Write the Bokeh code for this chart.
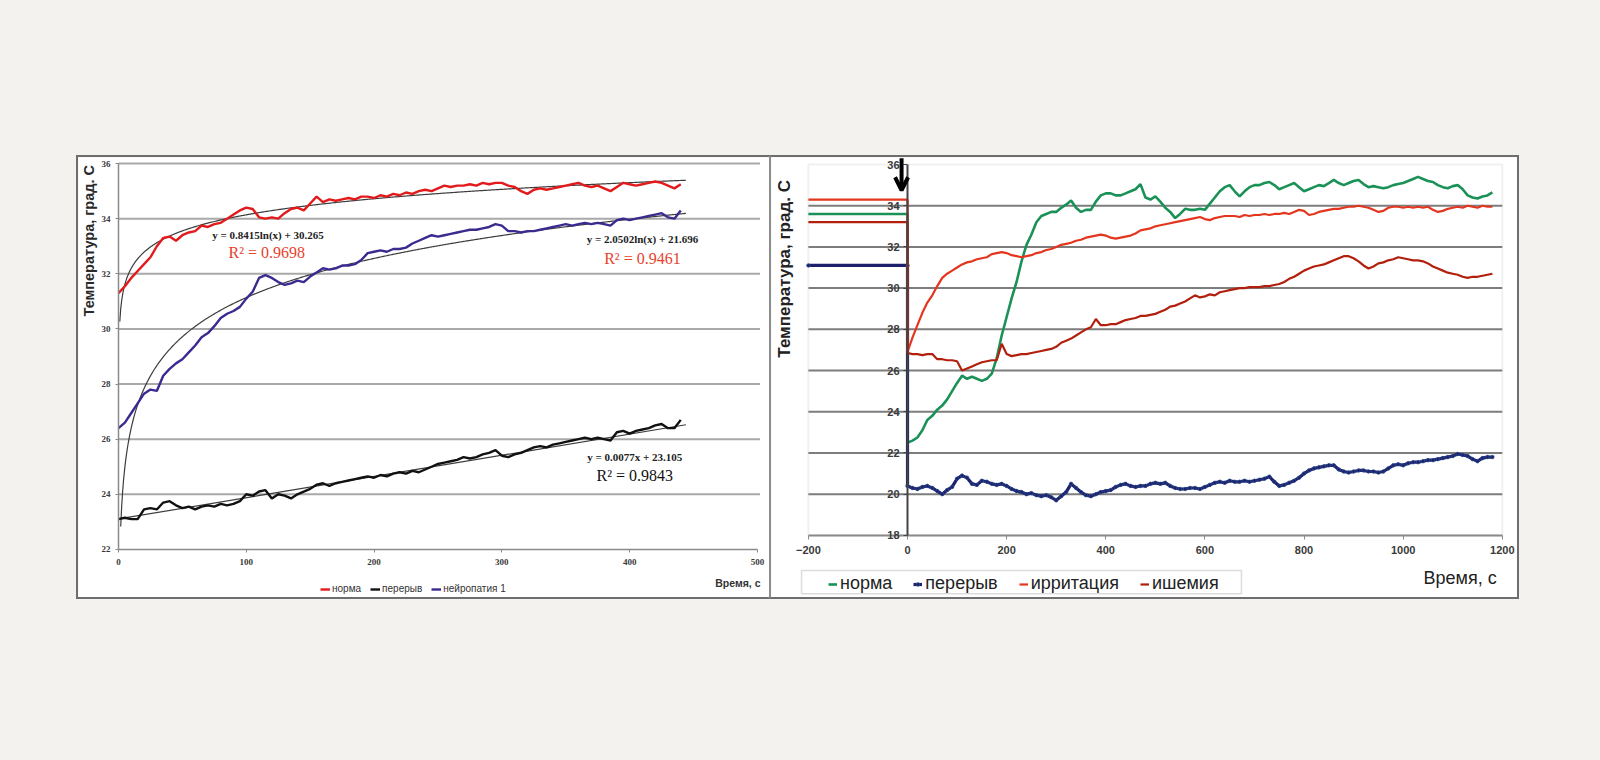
import numpy as np
from bokeh.plotting import figure
from bokeh.models import (Range1d, Label, Legend, LegendItem, Arrow, OpenHead,
                          FixedTicker, Spacer, BoxAnnotation)
from bokeh.layouts import row, column
from bokeh.embed import file_html
from bokeh.resources import INLINE

# ---------------- LEFT CHART DATA ----------------
left_t = list(range(0, 445, 5))
left_norma = [31.3, 31.55, 31.85, 32.1, 32.35, 32.6, 33.0, 33.3, 33.35, 33.2, 33.4, 33.5, 33.55, 33.75, 33.7,
              33.8, 33.85, 34.0, 34.15, 34.3, 34.4, 34.35, 34.05, 34.0, 34.05, 34.0, 34.2, 34.35, 34.4, 34.3,
              34.55, 34.8, 34.6, 34.7, 34.65, 34.7, 34.75, 34.7, 34.8, 34.8, 34.75, 34.85, 34.8, 34.9, 34.85,
              34.95, 34.9, 35.0, 35.05, 35.0, 35.1, 35.2, 35.15, 35.2, 35.2, 35.25, 35.2, 35.3, 35.25, 35.3,
              35.3, 35.2, 35.15, 35.0, 34.9, 35.05, 35.1, 35.05, 35.1, 35.15, 35.2, 35.25, 35.3, 35.2, 35.15,
              35.2, 35.1, 35.0, 35.15, 35.3, 35.25, 35.2, 35.25, 35.3, 35.35, 35.3, 35.2, 35.1, 35.25]
left_pereryv = [23.1, 23.15, 23.1, 23.1, 23.45, 23.5, 23.45, 23.7, 23.75, 23.6, 23.5, 23.55, 23.45, 23.55, 23.6,
                23.55, 23.65, 23.6, 23.65, 23.75, 24.0, 23.95, 24.1, 24.15, 23.85, 24.0, 23.95, 23.85, 24.0, 24.1,
                24.2, 24.35, 24.4, 24.3, 24.4, 24.45, 24.5, 24.55, 24.6, 24.65, 24.6, 24.7, 24.65, 24.75, 24.8,
                24.75, 24.85, 24.8, 24.9, 25.0, 25.1, 25.15, 25.2, 25.25, 25.35, 25.3, 25.35, 25.45, 25.5, 25.6,
                25.4, 25.35, 25.45, 25.5, 25.6, 25.7, 25.75, 25.7, 25.8, 25.85, 25.9, 25.95, 26.0, 26.05, 26.0,
                26.05, 26.0, 25.95, 26.25, 26.3, 26.2, 26.3, 26.35, 26.4, 26.5, 26.55, 26.4, 26.4, 26.7]
left_neuro = [26.4, 26.6, 26.95, 27.3, 27.65, 27.8, 27.75, 28.3, 28.55, 28.75, 28.9, 29.15, 29.4, 29.7, 29.85,
              30.1, 30.4, 30.55, 30.65, 30.8, 31.1, 31.35, 31.85, 31.95, 31.85, 31.7, 31.6, 31.65, 31.75, 31.7,
              31.9, 32.05, 32.2, 32.15, 32.2, 32.3, 32.3, 32.35, 32.5, 32.75, 32.8, 32.85, 32.8, 32.9, 32.9,
              32.95, 33.1, 33.2, 33.3, 33.4, 33.35, 33.4, 33.45, 33.5, 33.55, 33.6, 33.6, 33.65, 33.7, 33.8,
              33.75, 33.55, 33.55, 33.5, 33.55, 33.55, 33.6, 33.65, 33.7, 33.75, 33.8, 33.75, 33.8, 33.85, 33.8,
              33.85, 33.8, 33.75, 33.95, 34.0, 33.95, 34.0, 34.05, 34.1, 34.15, 34.2, 34.05, 34.0, 34.3]
left_names = ["норма", "перерыв", "нейропатия 1"]
# trendline coefficients as printed on the chart
trend_norma = (0.8415, 30.265)      # y = a ln(x) + b
trend_neuro = (2.0502, 21.696)      # y = a ln(x) + b
trend_pereryv = (0.0077, 23.105)    # y = a x + b
eq_texts = ["y = 0.8415ln(x) + 30.265", "y = 2.0502ln(x) + 21.696", "y = 0.0077x + 23.105"]
r2_texts = ["R² = 0.9698", "R² = 0.9461", "R² = 0.9843"]
left_yticks = [22, 24, 26, 28, 30, 32, 34, 36]
left_xticks = [0, 100, 200, 300, 400, 500]

# ---------------- RIGHT CHART DATA ----------------
right_t = list(range(0, 1190, 10))
pre_t = [-200, 0]
right_names = ["норма", "перерыв", "ирритация", "ишемия"]
pre_vals = {"норма": 33.6, "перерыв": 31.1, "ирритация": 34.3, "ишемия": 33.2}
r_norma = [22.5, 22.6, 22.75, 23.1, 23.6, 23.8, 24.1, 24.3, 24.6, 25.0, 25.4, 25.75, 25.6, 25.7, 25.6, 25.5,
           25.6, 25.85, 26.6, 27.7, 28.6, 29.5, 30.3, 31.3, 32.1, 32.6, 33.2, 33.5, 33.6, 33.7, 33.7, 33.9,
           34.05, 34.25, 33.9, 33.7, 33.8, 33.8, 34.2, 34.5, 34.6, 34.6, 34.5, 34.5, 34.6, 34.7, 34.8, 35.05,
           34.4, 34.3, 34.45, 34.2, 33.9, 33.7, 33.4, 33.6, 33.85, 33.8, 33.8, 33.85, 33.8, 34.1, 34.4, 34.7,
           34.9, 35.0, 34.7, 34.45, 34.7, 34.9, 35.0, 35.0, 35.1, 35.15, 35.0, 34.8, 34.9, 35.0, 35.1, 34.9,
           34.7, 34.8, 34.9, 35.0, 34.95, 35.1, 35.25, 35.1, 35.0, 35.1, 35.2, 35.25, 35.05, 34.9, 34.95, 34.9,
           34.85, 34.9, 35.0, 35.05, 35.1, 35.2, 35.3, 35.4, 35.3, 35.2, 35.15, 35.0, 34.9, 34.85, 34.95, 35.0,
           34.8, 34.5, 34.4, 34.35, 34.45, 34.5, 34.65]
r_pereryv = [20.4, 20.3, 20.25, 20.35, 20.4, 20.3, 20.15, 20.0, 20.2, 20.35, 20.75, 20.9, 20.8, 20.5, 20.45,
             20.65, 20.6, 20.5, 20.45, 20.5, 20.4, 20.25, 20.15, 20.1, 20.0, 20.05, 19.95, 19.9, 19.95, 19.85,
             19.7, 19.9, 20.1, 20.5, 20.3, 20.1, 19.95, 19.9, 20.0, 20.1, 20.15, 20.2, 20.35, 20.45, 20.5, 20.4,
             20.35, 20.4, 20.4, 20.5, 20.55, 20.5, 20.55, 20.4, 20.3, 20.25, 20.25, 20.3, 20.3, 20.25, 20.35,
             20.45, 20.55, 20.6, 20.55, 20.65, 20.6, 20.6, 20.65, 20.6, 20.65, 20.7, 20.75, 20.85, 20.6, 20.4,
             20.45, 20.55, 20.65, 20.8, 21.0, 21.15, 21.25, 21.3, 21.35, 21.4, 21.4, 21.2, 21.1, 21.05, 21.1,
             21.15, 21.15, 21.1, 21.1, 21.05, 21.1, 21.25, 21.4, 21.45, 21.4, 21.5, 21.55, 21.55, 21.6, 21.65,
             21.65, 21.7, 21.75, 21.8, 21.85, 21.95, 21.9, 21.85, 21.7, 21.6, 21.75, 21.8, 21.8]
r_irrit = [26.9, 27.6, 28.2, 28.8, 29.3, 29.65, 30.1, 30.5, 30.7, 30.85, 31.0, 31.15, 31.25, 31.3, 31.4, 31.45,
           31.5, 31.65, 31.7, 31.75, 31.7, 31.6, 31.55, 31.5, 31.55, 31.6, 31.7, 31.75, 31.85, 31.9, 32.0, 32.1,
           32.15, 32.2, 32.3, 32.35, 32.45, 32.5, 32.55, 32.6, 32.55, 32.45, 32.4, 32.45, 32.5, 32.55, 32.65,
           32.8, 32.85, 32.9, 33.0, 33.05, 33.1, 33.15, 33.2, 33.25, 33.3, 33.35, 33.4, 33.45, 33.35, 33.3, 33.4,
           33.45, 33.5, 33.5, 33.5, 33.45, 33.55, 33.5, 33.55, 33.55, 33.6, 33.55, 33.6, 33.6, 33.65, 33.6, 33.7,
           33.8, 33.75, 33.55, 33.6, 33.7, 33.75, 33.8, 33.85, 33.85, 33.9, 33.95, 33.95, 34.0, 33.95, 33.9,
           33.8, 33.7, 33.75, 33.9, 33.95, 33.95, 33.9, 33.95, 33.9, 33.95, 33.9, 33.95, 33.8, 33.7, 33.75, 33.85,
           33.9, 33.95, 33.9, 34.0, 33.95, 33.9, 34.0, 33.95, 33.95]
r_ischem = [26.85, 26.8, 26.8, 26.75, 26.8, 26.8, 26.55, 26.55, 26.5, 26.5, 26.45, 26.0, 26.1, 26.2, 26.3, 26.4,
            26.45, 26.5, 26.5, 27.3, 26.8, 26.7, 26.75, 26.8, 26.8, 26.85, 26.9, 26.95, 27.0, 27.05, 27.15, 27.35,
            27.45, 27.55, 27.7, 27.85, 28.0, 28.1, 28.5, 28.2, 28.2, 28.25, 28.25, 28.35, 28.45, 28.5, 28.55,
            28.65, 28.65, 28.7, 28.75, 28.85, 28.95, 29.1, 29.15, 29.25, 29.35, 29.5, 29.65, 29.55, 29.6, 29.7,
            29.65, 29.8, 29.85, 29.9, 29.95, 30.0, 30.0, 30.05, 30.05, 30.05, 30.1, 30.1, 30.15, 30.2, 30.3,
            30.45, 30.55, 30.7, 30.85, 30.95, 31.05, 31.1, 31.15, 31.25, 31.35, 31.45, 31.55, 31.55, 31.45, 31.3,
            31.1, 30.95, 31.05, 31.2, 31.25, 31.35, 31.4, 31.5, 31.45, 31.4, 31.35, 31.35, 31.3, 31.2, 31.05,
            30.95, 30.85, 30.75, 30.7, 30.65, 30.55, 30.5, 30.55, 30.55, 30.6, 30.65, 30.7]
right_yticks = [18, 20, 22, 24, 26, 28, 30, 32, 34, 36]
right_xticks = [-200, 0, 200, 400, 600, 800, 1000, 1200]
event_t = 0

FRAME = "#6e6e6e"

# ================= LEFT FIGURE =================
# the frame fills the whole canvas; axes are pinned at x=0 / y=22
p1 = figure(width=693, height=444, output_backend="svg", toolbar_location=None,
            x_range=Range1d(-31.3, 511.0), y_range=Range1d(20.11, 36.22),
            min_border_left=0, min_border_right=0, min_border_top=0, min_border_bottom=0)
p1.styles = {"border-top": f"2px solid {FRAME}", "border-left": f"2px solid {FRAME}",
             "border-bottom": f"2px solid {FRAME}"}
p1.outline_line_color = None
p1.background_fill_color = "white"
p1.border_fill_color = "white"
p1.xgrid.visible = False
p1.ygrid.visible = False
p1.yaxis.ticker = FixedTicker(ticks=left_yticks)
p1.xaxis.ticker = FixedTicker(ticks=left_xticks)
p1.yaxis.fixed_location = left_xticks[0]
p1.xaxis.fixed_location = left_yticks[0]
p1.yaxis.bounds = (left_yticks[0], left_yticks[-1])
p1.xaxis.bounds = (left_xticks[0], left_xticks[-1])
for ax in (p1.xaxis[0], p1.yaxis[0]):
    ax.axis_line_color = "#8a8a8a"
    ax.axis_line_width = 1.5
    ax.major_tick_line_color = "#8a8a8a"
    ax.major_tick_in = 0
    ax.major_tick_out = 3
    ax.minor_tick_line_color = None
    ax.major_label_text_font = "Liberation Serif"
    ax.major_label_text_font_style = "bold"
    ax.major_label_text_font_size = "9px"
    ax.major_label_text_color = "#3a3a3a"
p1.yaxis.major_label_standoff = 5
p1.xaxis.major_label_standoff = 7

# horizontal grid lines
g1 = left_yticks[1:]
p1.segment(x0=[left_xticks[0]] * len(g1), x1=[left_xticks[-1] + 2] * len(g1), y0=g1, y1=g1,
           line_color="#a9a9a9", line_width=2)

tx = np.linspace(1.0, 444, 600)
a, b = trend_norma
p1.line(tx, a * np.log(tx) + b, line_color="#3c3c3c", line_width=1.2)
a, b = trend_neuro
txn = tx[a * np.log(tx) + b >= left_yticks[0]]
p1.line(txn, a * np.log(txn) + b, line_color="#3c3c3c", line_width=1.2)
a, b = trend_pereryv
tl = np.array([0.0, 444.0])
p1.line(tl, a * tl + b, line_color="#3c3c3c", line_width=1.2)

rn = p1.line(left_t, left_norma, line_color="#e31a1c", line_width=2.4)
rp = p1.line(left_t, left_pereryv, line_color="#111111", line_width=2.4)
rz = p1.line(left_t, left_neuro, line_color="#3b2a8f", line_width=2.4)

# trend line texts
for (xx, yy, txt, size, col, bold) in [
        (117, 33.39, eq_texts[0], "11px", "#222222", True),
        (116, 32.77, r2_texts[0], "16px", "#e8412c", False),
        (410, 33.28, eq_texts[1], "11px", "#222222", True),
        (410, 32.55, r2_texts[1], "16px", "#e8412c", False),
        (404, 25.34, eq_texts[2], "11px", "#222222", True),
        (404, 24.68, r2_texts[2], "16px", "#111111", False)]:
    p1.add_layout(Label(x=xx, y=yy, text=txt, text_font="Liberation Serif",
                        text_font_style="bold" if bold else "normal", text_font_size=size,
                        text_color=col, text_align="center", text_baseline="middle"))

p1.add_layout(Label(x=-22.7, y=33.2, text="Температура, град. С", angle=np.pi / 2, text_font="Liberation Sans",
                    text_font_style="bold", text_font_size="14.5px", text_color="#2a2a2a",
                    text_align="center", text_baseline="middle"))
p1.add_layout(Label(x=467, y=20.77, text="Время, с", text_font="Liberation Sans", text_font_style="bold",
                    text_font_size="10.5px", text_color="#333333", text_align="left", text_baseline="middle"))

leg1 = Legend(items=[LegendItem(label=left_names[0], renderers=[rn]),
                     LegendItem(label=left_names[1], renderers=[rp]),
                     LegendItem(label=left_names[2], renderers=[rz])],
              orientation="horizontal", location=(242, 7), border_line_color=None,
              background_fill_alpha=0, label_text_font="Liberation Sans", label_text_font_size="10px",
              label_text_color="#333333", glyph_width=10, glyph_height=10, label_standoff=2, spacing=9,
              padding=0, margin=0)
p1.add_layout(leg1)

# ================= RIGHT FIGURE =================
p2 = figure(width=750, height=444, output_backend="svg", toolbar_location=None,
            x_range=Range1d(-274.4, 1238.7), y_range=Range1d(14.79, 36.34),
            min_border_left=0, min_border_right=0, min_border_top=0, min_border_bottom=0)
p2.styles = {"border-top": f"2px solid {FRAME}", "border-left": "2px solid #8e8e8e",
             "border-right": f"2px solid {FRAME}", "border-bottom": f"2px solid {FRAME}"}
p2.outline_line_color = None
p2.background_fill_color = "white"
p2.border_fill_color = "white"
p2.xgrid.visible = False
p2.ygrid.visible = False
p2.yaxis.ticker = FixedTicker(ticks=right_yticks)
p2.xaxis.ticker = FixedTicker(ticks=right_xticks)
p2.yaxis.fixed_location = event_t
p2.xaxis.fixed_location = right_yticks[0]
p2.yaxis.bounds = (right_yticks[0], right_yticks[-1])
p2.xaxis.bounds = (right_xticks[0], right_xticks[-1])
for ax in (p2.xaxis[0], p2.yaxis[0]):
    ax.major_tick_in = 0
    ax.major_tick_out = 4
    ax.minor_tick_line_color = None
    ax.major_label_text_font = "Liberation Sans"
    ax.major_label_text_font_style = "bold"
    ax.major_label_text_font_size = "11px"
    ax.major_label_text_color = "#3a3a3a"
p2.xaxis.axis_line_color = "#8a8a8a"
p2.xaxis.axis_line_width = 2
p2.xaxis.major_tick_line_color = "#8a8a8a"
p2.xaxis.major_label_standoff = 7
p2.yaxis.axis_line_color = "#444444"
p2.yaxis.axis_line_width = 2
p2.yaxis.major_tick_line_color = "#444444"
p2.yaxis.major_label_standoff = 4

# plot-area border and horizontal grid lines
p2.add_layout(BoxAnnotation(left=right_xticks[0], right=right_xticks[-1], bottom=right_yticks[0],
                            top=right_yticks[-1], fill_alpha=0, line_color="#cfcfcf", line_width=2,
                            level="underlay"))
g2 = right_yticks[1:-1]
p2.segment(x0=[right_xticks[0]] * len(g2), x1=[right_xticks[-1]] * len(g2), y0=g2, y1=g2,
           line_color="#7d7d7d", line_width=2)

def series(pre, vals):
    return pre_t + right_t, [pre, pre] + vals

xs, ys = series(pre_vals["норма"], r_norma)
g_norma = p2.line(xs, ys, line_color="#1a9257", line_width=2.6)
xs, ys = series(pre_vals["перерыв"], r_pereryv)
g_per = p2.line(xs, ys, line_color="#1d1f6b", line_width=3.2)
g_perm = p2.scatter(xs, ys, marker="circle", size=3.5, fill_color="#1d1f6b", line_color="#2a4f8f",
                    line_width=0.8)
xs, ys = series(pre_vals["ирритация"], r_irrit)
g_irr = p2.line(xs, ys, line_color="#e4361e", line_width=2.2)
xs, ys = series(pre_vals["ишемия"], r_ischem)
g_isch = p2.line(xs, ys, line_color="#b21f0d", line_width=2.2)

p2.add_layout(Arrow(end=OpenHead(size=13, line_width=4, line_color="black"),
                    x_start=event_t - 12, y_start=36.3, x_end=event_t - 12, y_end=34.75,
                    line_width=4, line_color="black"))

p2.add_layout(Label(x=-248, y=31.05, text="Температура,  град. С", angle=np.pi / 2,
                    text_font="Liberation Sans", text_font_style="bold", text_font_size="17px",
                    text_color="#222222", text_align="center", text_baseline="middle"))
p2.add_layout(Label(x=1041, y=15.95, text="Время, с", text_font="Liberation Sans",
                    text_font_size="18px", text_color="#222222", text_align="left", text_baseline="middle"))

# legend box (border) and legend
p2.add_layout(BoxAnnotation(left=-213.8, right=673.8, bottom=15.17, top=16.29, fill_alpha=0,
                            line_color="#8a8a8a", line_width=1.5))
leg2 = Legend(items=[LegendItem(label=right_names[0], renderers=[g_norma]),
                     LegendItem(label=right_names[1], renderers=[g_per, g_perm]),
                     LegendItem(label=right_names[2], renderers=[g_irr]),
                     LegendItem(label=right_names[3], renderers=[g_isch])],
              orientation="horizontal", location=(57, 7), border_line_color=None,
              background_fill_alpha=0,
              label_text_font="Liberation Sans", label_text_font_size="18px", label_text_color="#222222",
              glyph_width=9, glyph_height=14, label_standoff=3, spacing=21, padding=2, margin=0)
p2.add_layout(leg2)

layout = column(Spacer(width=1600, height=155),
                row(Spacer(width=76, height=448), p1, p2))

html = file_html(layout, INLINE)
html = html.replace("<body>", '<body style="margin:0;background:#f3f2ee;">')
open("out.html", "w").write(html)
